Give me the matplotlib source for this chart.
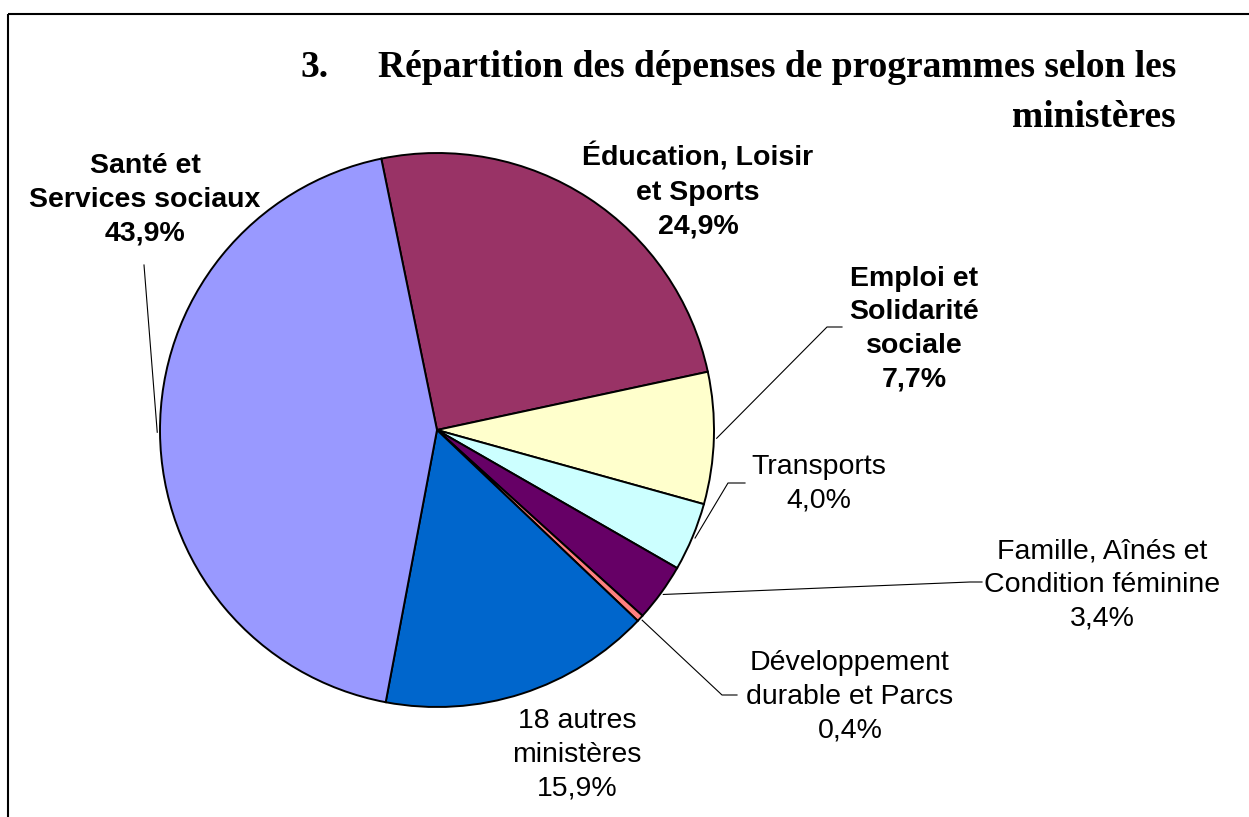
import numpy as np
import matplotlib
matplotlib.use("Agg")
import matplotlib.pyplot as plt

# ---- data ----
labels = ["Éducation, Loisir\net Sports", "Emploi et\nSolidarité\nsociale", "Transports",
          "Famille, Aînés et\nCondition féminine", "Développement\ndurable et Parcs",
          "18 autres\nministères", "Santé et\nServices sociaux"]
values = [24.9, 7.7, 4.0, 3.4, 0.4, 15.9, 43.9]
value_text = ["24,9%", "7,7%", "4,0%", "3,4%", "0,4%", "15,9%", "43,9%"]
colors = ["#993366", "#FFFFCC", "#CCFFFF", "#660066", "#FF8080", "#0066CC", "#9999FF"]
bold = [True, True, False, False, False, False, True]
title_num = "3."
title_line1 = "Répartition des dépenses de programmes selon les"
title_line2 = "ministères"

W, H = 1249, 817
def Y(y):
    return H - y

fig = plt.figure(figsize=(W / 100, H / 100), dpi=100)
ax = fig.add_axes([0, 0, 1, 1])

cx, cy, R = 437, 430, 277
wedges, _ = ax.pie(values, colors=colors, startangle=101.6, counterclock=False,
                   center=(cx, Y(cy)), radius=R,
                   wedgeprops=dict(edgecolor="black", linewidth=1.4))
ax.set_xlim(0, W)
ax.set_ylim(0, H)
ax.set_aspect("equal")
ax.axis("off")

# label positions (pixel coords: centre of text block) and leader elbows
label_pos = [(698, 191), (914, 329), (819, 484), (1102, 585), (850, 697), (577, 755), (145, 200)]
leaders = {
    1: [(827, 327), (842, 327)],
    2: [(728, 483), (745, 483)],
    3: [(970, 582), (982, 582)],
    4: [(722, 695), (737, 695)],
    6: [(144, 265)],
}

for i, w in enumerate(wedges):
    txt = labels[i] + "\n" + value_text[i]
    x, y = label_pos[i]
    ax.text(x, Y(y), txt, ha="center", va="center", multialignment="center",
            fontsize=20.5, family="Liberation Sans",
            fontweight="bold" if bold[i] else "normal", linespacing=1.38, color="black")
    if i in leaders:
        mid = np.deg2rad((w.theta1 + w.theta2) / 2)
        sx = cx + R * 1.01 * np.cos(mid)
        sy = Y(cy) + R * 1.01 * np.sin(mid)
        xs = [sx] + [p[0] for p in leaders[i]]
        ys = [sy] + [Y(p[1]) for p in leaders[i]]
        ax.plot(xs, ys, color="black", linewidth=0.8)

# title
ax.text(300, Y(77), title_num, ha="left", va="baseline", fontsize=27,
        family="Liberation Serif", fontweight="bold")
ax.text(1176, Y(77), title_line1, ha="right", va="baseline", fontsize=27,
        family="Liberation Serif", fontweight="bold")
ax.text(1176, Y(127), title_line2, ha="right", va="baseline", fontsize=27,
        family="Liberation Serif", fontweight="bold")

# chart frame (top and left edges visible)
ax.plot([8, W], [Y(14), Y(14)], color="black", linewidth=1.5, solid_capstyle="butt")
ax.plot([8, 8], [Y(14), 0], color="black", linewidth=1.5, solid_capstyle="butt")

fig.savefig("out.png", dpi=100)
